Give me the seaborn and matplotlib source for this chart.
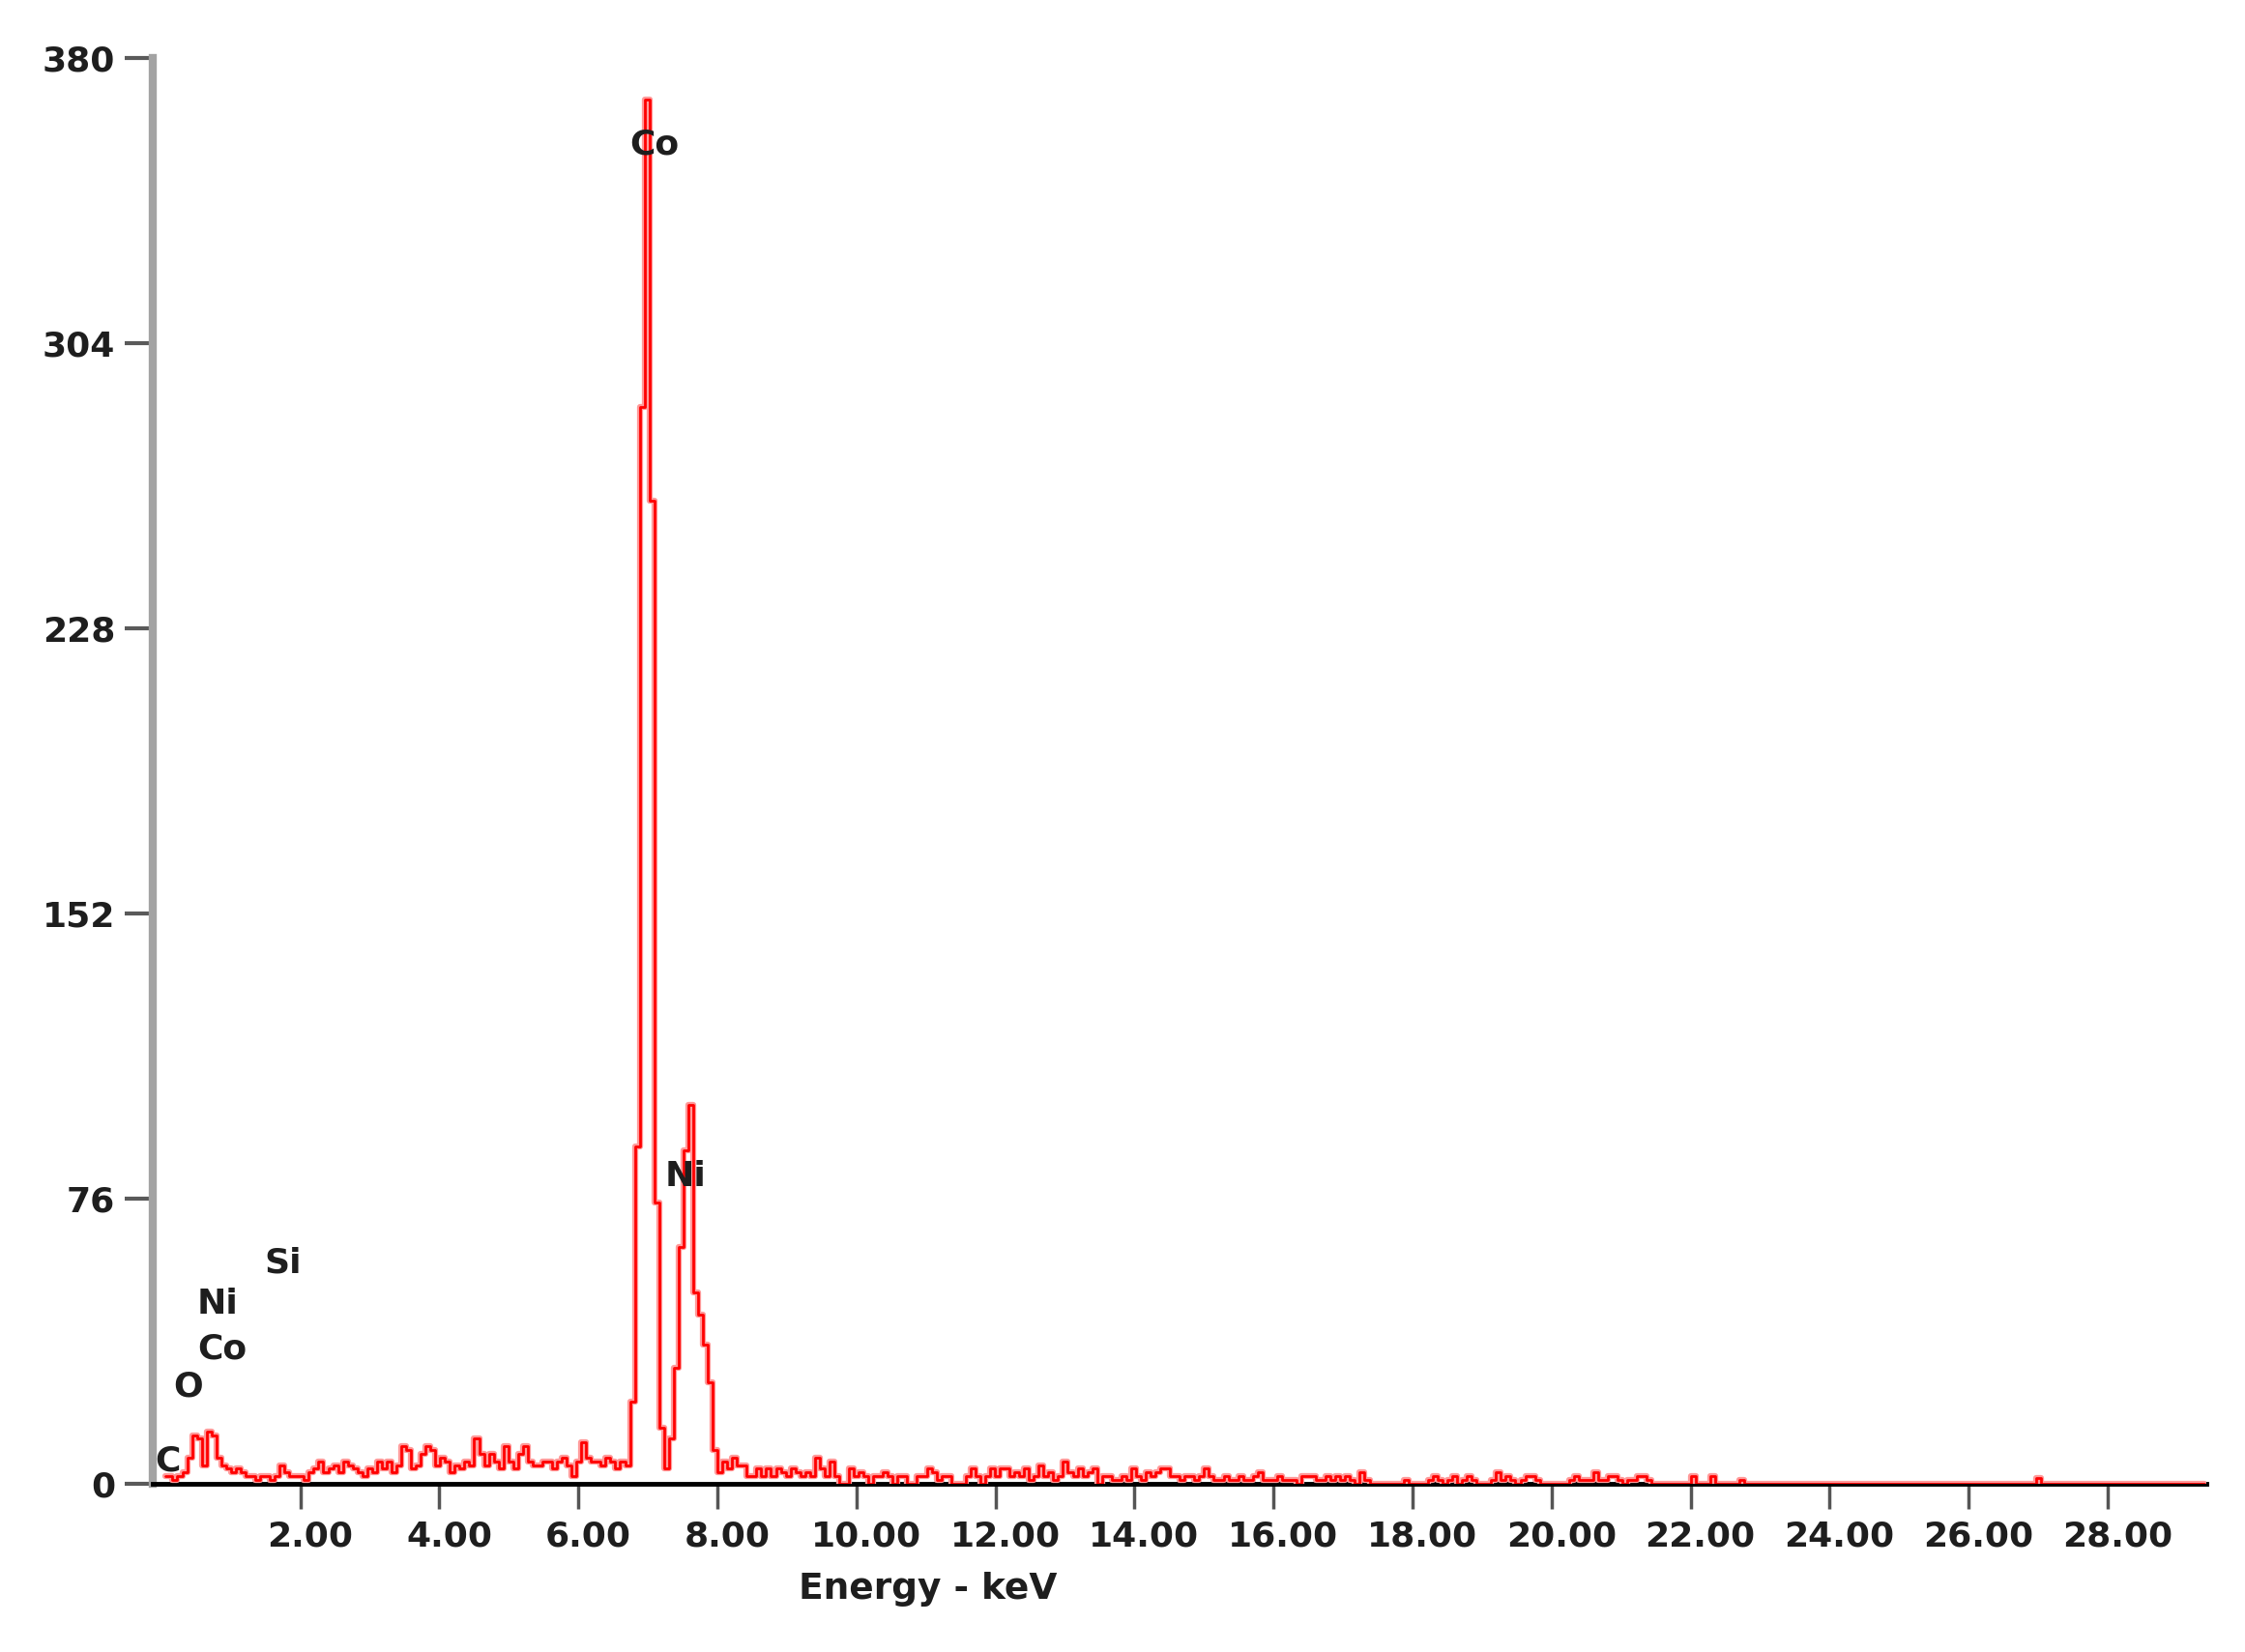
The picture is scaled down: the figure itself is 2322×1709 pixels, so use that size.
import numpy as np
import pandas as pd
import seaborn as sns
import matplotlib.pyplot as plt
from matplotlib.transforms import ScaledTranslation

# EDS spectrum, counts per channel (channel k sits at CH_START + k * CH_WIDTH keV)
CH_START = 0.056
CH_WIDTH = 0.07
N_CHANNELS = 420

counts = [
    2, 2, 1, 2, 3, 7, 13, 12, 5, 14,
    13, 7, 5, 4, 3, 4, 3, 2, 2, 1,
    2, 2, 1, 2, 5, 3, 2, 2, 2, 1,
    3, 4, 6, 3, 4, 5, 3, 6, 5, 4,
    3, 2, 4, 3, 6, 4, 6, 3, 5, 10,
    9, 4, 5, 8, 10, 9, 5, 7, 6, 3,
    5, 4, 6, 5, 12, 8, 5, 8, 6, 4,
    10, 6, 4, 8, 10, 6, 5, 5, 6, 6,
    4, 6, 7, 5, 2, 6, 11, 7, 6, 6,
    5, 7, 6, 4, 6, 5, 22, 90, 287, 369,
    262, 75, 15, 4, 12, 31, 63, 89, 101, 51,
    45, 37, 27, 9, 3, 6, 4, 7, 5, 5,
    2, 2, 4, 2, 4, 2, 4, 3, 2, 4,
    3, 2, 3, 2, 7, 4, 2, 6, 2, 0,
    0, 4, 2, 3, 2, 0, 2, 2, 3, 2,
    0, 2, 2, 0, 0, 2, 2, 4, 3, 1,
    2, 2, 0, 0, 0, 2, 4, 2, 0, 2,
    4, 2, 4, 4, 2, 3, 2, 4, 1, 2,
    5, 2, 3, 1, 2, 6, 3, 2, 4, 2,
    3, 4, 0, 2, 2, 1, 1, 2, 1, 4,
    2, 1, 3, 2, 3, 4, 4, 2, 2, 1,
    2, 2, 1, 2, 4, 2, 1, 1, 2, 1,
    1, 2, 1, 1, 2, 3, 1, 1, 1, 2,
    1, 1, 1, 0, 2, 2, 2, 1, 1, 2,
    1, 2, 1, 2, 1, 0, 3, 1, 0, 0,
    0, 0, 0, 0, 0, 1, 0, 0, 0, 0,
    1, 2, 1, 0, 1, 2, 0, 1, 2, 1,
    0, 0, 0, 1, 3, 1, 2, 1, 0, 1,
    2, 2, 1, 0, 0, 0, 0, 0, 0, 1,
    2, 1, 1, 1, 3, 1, 1, 2, 2, 1,
    0, 1, 1, 2, 2, 1, 0, 0, 0, 0,
    0, 0, 0, 0, 2, 0, 0, 0, 2, 0,
    0, 0, 0, 0, 1, 0,
]
# isolated counts far out in the tail (channel -> counts)
tail_spikes = {385: 1.5}

peak_labels = ["C", "O", "Co", "Ni", "Si", "Co", "Ni"]
peak_label_kev = [0.09, 0.38, 0.87, 0.81, 1.75, 7.09, 7.54]
peak_label_counts = [6, 26, 36, 48, 59, 357, 82]

x_ticks = [2, 4, 6, 8, 10, 12, 14, 16, 18, 20, 22, 24, 26, 28]
y_ticks = [0, 76, 152, 228, 304, 380]

full = counts + [0] * (N_CHANNELS - len(counts))
for ch, c in tail_spikes.items():
    full[ch] = c
df = pd.DataFrame({"energy": CH_START + CH_WIDTH * np.arange(N_CHANNELS),
                   "counts": full})

sns.set_style("ticks")
plt.rcParams["font.family"] = ["DejaVu Sans"]
plt.rcParams["font.weight"] = "bold"
txt_color = "#1e1e1e"

fig = plt.figure(figsize=(23.22, 17.09), dpi=100)
ax = fig.add_axes([0.068, 0.1018, 0.9148, 0.8631])

# soft halo + core line to get the blurry look of the original
sns.lineplot(data=df, x="energy", y="counts", ax=ax, estimator=None,
             color="#ff9a9a", linewidth=4.5, drawstyle="steps-mid", zorder=3)
sns.lineplot(data=df, x="energy", y="counts", ax=ax, estimator=None,
             color="#ff0000", linewidth=2.0, drawstyle="steps-mid", zorder=4)

for lab, xk, yc in zip(peak_labels, peak_label_kev, peak_label_counts):
    ax.text(xk, yc, lab, ha="center", va="center", fontsize=26,
            color=txt_color, zorder=5)

ax.set_xlim(-0.125, 29.42)
ax.set_ylim(0, 380)
ax.set_xticks(x_ticks)
ax.set_xticklabels([f"{v:.2f}" for v in x_ticks])
ax.set_yticks(y_ticks)
ax.set_yticklabels([str(v) for v in y_ticks])
ax.set_xlabel("")
ax.set_ylabel("")

for s in ["top", "right"]:
    ax.spines[s].set_visible(False)
ax.spines["left"].set_color("#a3a3a3")
ax.spines["left"].set_linewidth(6)
ax.spines["bottom"].set_color("#000000")
ax.spines["bottom"].set_linewidth(3.5)

ax.tick_params(axis="x", bottom=True, direction="out", length=19, width=2.5,
               color="#555555", pad=8, labelsize=26, labelcolor=txt_color)
ax.tick_params(axis="y", left=True, direction="out", length=21, width=3,
               color="#5a5a5a", pad=7, labelsize=26, labelcolor=txt_color)
shift = ScaledTranslation(0.10, 0, fig.dpi_scale_trans)
for lbl in ax.get_xticklabels():
    lbl.set_transform(lbl.get_transform() + shift)

fig.text(0.4134, 0.038, "Energy - keV", ha="center", va="center",
         fontsize=27, color=txt_color)

fig.savefig("out.png", dpi=100, facecolor="white")
